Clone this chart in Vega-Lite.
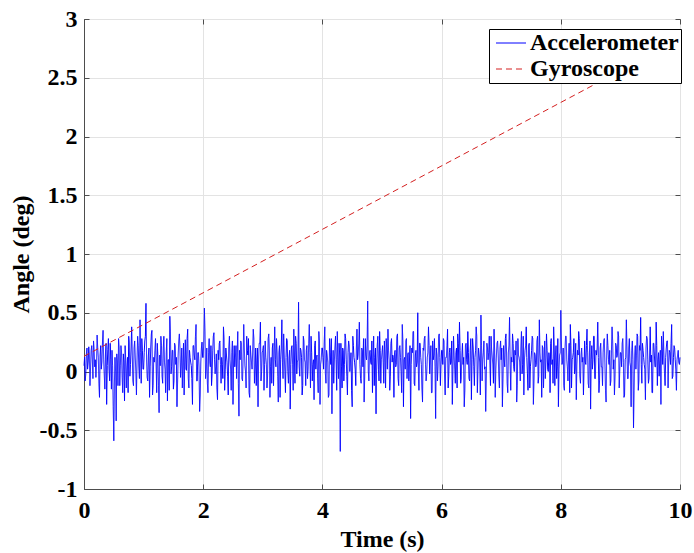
{
"$schema":"https://vega.github.io/schema/vega-lite/v6.json",
"width":596,"height":470,
"autosize":"none",
"padding":{"left":84,"top":19,"right":14,"bottom":64},
"background":"white",
"config":{"view":{"stroke":"#4d4d4d","strokeWidth":1},"font":"Liberation Serif"},
"datasets":{
"gyro":[{"t":0,"a":0.13},{"t":10,"a":2.83}],
"acc":[
{"t":0.00,"a":0.05},{"t":0.02,"a":-0.08},{"t":0.04,"a":0.15},{"t":0.06,"a":0.02},{"t":0.08,"a":0.21},{"t":0.10,"a":-0.12},{"t":0.12,"a":0.18},{"t":0.14,"a":0.10},{"t":0.16,"a":0.26},{"t":0.18,"a":0.04},
{"t":0.20,"a":-0.05},{"t":0.22,"a":0.31},{"t":0.24,"a":0.12},{"t":0.26,"a":-0.22},{"t":0.28,"a":0.22},{"t":0.30,"a":0.08},{"t":0.32,"a":0.35},{"t":0.34,"a":-0.03},{"t":0.36,"a":0.15},{"t":0.38,"a":-0.28},
{"t":0.40,"a":0.19},{"t":0.42,"a":0.02},{"t":0.44,"a":0.24},{"t":0.46,"a":-0.15},{"t":0.48,"a":0.05},{"t":0.50,"a":-0.59},{"t":0.52,"a":0.12},{"t":0.54,"a":-0.42},{"t":0.56,"a":0.08},{"t":0.58,"a":0.28},
{"t":0.60,"a":-0.12},{"t":0.62,"a":0.22},{"t":0.64,"a":-0.05},{"t":0.66,"a":0.15},{"t":0.68,"a":-0.25},{"t":0.70,"a":0.10},{"t":0.72,"a":0.03},{"t":0.74,"a":-0.18},{"t":0.76,"a":0.25},{"t":0.78,"a":0.06},
{"t":0.80,"a":0.38},{"t":0.82,"a":-0.08},{"t":0.84,"a":0.20},{"t":0.86,"a":0.12},{"t":0.88,"a":-0.20},{"t":0.90,"a":0.30},{"t":0.92,"a":0.04},{"t":0.94,"a":0.44},{"t":0.96,"a":-0.10},{"t":0.98,"a":0.18},
{"t":1.00,"a":0.02},{"t":1.02,"a":0.26},{"t":1.04,"a":0.58},{"t":1.06,"a":-0.05},{"t":1.08,"a":0.14},{"t":1.10,"a":-0.22},{"t":1.12,"a":0.20},{"t":1.14,"a":0.35},{"t":1.16,"a":-0.12},{"t":1.18,"a":0.08},
{"t":1.20,"a":0.28},{"t":1.22,"a":-0.18},{"t":1.24,"a":0.12},{"t":1.26,"a":-0.35},{"t":1.28,"a":0.05},{"t":1.30,"a":0.22},{"t":1.32,"a":-0.10},{"t":1.34,"a":0.30},{"t":1.36,"a":0.02},{"t":1.38,"a":0.16},
{"t":1.40,"a":-0.25},{"t":1.42,"a":0.10},{"t":1.44,"a":0.47},{"t":1.46,"a":-0.02},{"t":1.48,"a":0.18},{"t":1.50,"a":-0.15},{"t":1.52,"a":0.24},{"t":1.54,"a":0.06},{"t":1.56,"a":-0.30},{"t":1.58,"a":0.14},
{"t":1.60,"a":0.32},{"t":1.62,"a":-0.05},{"t":1.64,"a":0.20},{"t":1.66,"a":0.08},{"t":1.68,"a":-0.20},{"t":1.70,"a":0.27},{"t":1.72,"a":0.01},{"t":1.74,"a":0.36},{"t":1.76,"a":-0.14},{"t":1.78,"a":0.12},
{"t":1.80,"a":0.05},{"t":1.82,"a":-0.28},{"t":1.84,"a":0.22},{"t":1.86,"a":0.10},{"t":1.88,"a":0.40},{"t":1.90,"a":-0.08},{"t":1.92,"a":0.16},{"t":1.94,"a":-0.34},{"t":1.96,"a":0.08},{"t":1.98,"a":0.25},
{"t":2.00,"a":0.12},{"t":2.02,"a":0.54},{"t":2.04,"a":-0.06},{"t":2.06,"a":0.20},{"t":2.08,"a":-0.18},{"t":2.10,"a":0.28},{"t":2.12,"a":0.04},{"t":2.14,"a":-0.12},{"t":2.16,"a":0.18},{"t":2.18,"a":0.33},
{"t":2.20,"a":-0.02},{"t":2.22,"a":0.15},{"t":2.24,"a":-0.24},{"t":2.26,"a":0.10},{"t":2.28,"a":0.26},{"t":2.30,"a":-0.10},{"t":2.32,"a":0.06},{"t":2.34,"a":0.38},{"t":2.36,"a":-0.16},{"t":2.38,"a":0.20},
{"t":2.40,"a":0.08},{"t":2.42,"a":-0.20},{"t":2.44,"a":0.30},{"t":2.46,"a":0.02},{"t":2.48,"a":0.16},{"t":2.50,"a":-0.28},{"t":2.52,"a":0.22},{"t":2.54,"a":0.12},{"t":2.56,"a":-0.06},{"t":2.58,"a":0.34},
{"t":2.60,"a":-0.38},{"t":2.62,"a":0.10},{"t":2.64,"a":0.24},{"t":2.66,"a":-0.08},{"t":2.68,"a":0.40},{"t":2.70,"a":0.05},{"t":2.72,"a":-0.14},{"t":2.74,"a":0.18},{"t":2.76,"a":0.28},{"t":2.78,"a":-0.22},
{"t":2.80,"a":0.14},{"t":2.82,"a":0.02},{"t":2.84,"a":0.36},{"t":2.86,"a":-0.10},{"t":2.88,"a":0.20},{"t":2.90,"a":0.08},{"t":2.92,"a":-0.30},{"t":2.94,"a":0.24},{"t":2.96,"a":0.42},{"t":2.98,"a":0.00},
{"t":3.00,"a":0.18},{"t":3.02,"a":-0.16},{"t":3.04,"a":0.26},{"t":3.06,"a":0.06},{"t":3.08,"a":-0.04},{"t":3.10,"a":0.32},{"t":3.12,"a":-0.22},{"t":3.14,"a":0.12},{"t":3.16,"a":0.20},{"t":3.18,"a":-0.12},
{"t":3.20,"a":0.38},{"t":3.22,"a":0.04},{"t":3.24,"a":0.16},{"t":3.26,"a":-0.26},{"t":3.28,"a":0.22},{"t":3.30,"a":0.10},{"t":3.32,"a":0.44},{"t":3.34,"a":-0.06},{"t":3.36,"a":0.14},{"t":3.38,"a":-0.18},
{"t":3.40,"a":0.28},{"t":3.42,"a":0.00},{"t":3.44,"a":0.12},{"t":3.46,"a":-0.32},{"t":3.48,"a":0.20},{"t":3.50,"a":0.06},{"t":3.52,"a":0.36},{"t":3.54,"a":-0.10},{"t":3.56,"a":0.24},{"t":3.58,"a":0.08},
{"t":3.60,"a":0.59},{"t":3.62,"a":-0.04},{"t":3.64,"a":0.18},{"t":3.66,"a":-0.20},{"t":3.68,"a":0.30},{"t":3.70,"a":0.10},{"t":3.72,"a":-0.12},{"t":3.74,"a":0.22},{"t":3.76,"a":0.02},{"t":3.78,"a":0.40},
{"t":3.80,"a":-0.14},{"t":3.82,"a":0.16},{"t":3.84,"a":0.06},{"t":3.86,"a":-0.24},{"t":3.88,"a":0.26},{"t":3.90,"a":0.12},{"t":3.92,"a":-0.06},{"t":3.94,"a":0.34},{"t":3.96,"a":-0.28},{"t":3.98,"a":0.10},
{"t":4.00,"a":0.20},{"t":4.02,"a":0.02},{"t":4.04,"a":0.38},{"t":4.06,"a":-0.10},{"t":4.08,"a":0.14},{"t":4.10,"a":-0.22},{"t":4.12,"a":0.28},{"t":4.14,"a":0.06},{"t":4.16,"a":-0.36},{"t":4.18,"a":0.18},
{"t":4.20,"a":0.08},{"t":4.22,"a":0.30},{"t":4.24,"a":-0.16},{"t":4.26,"a":0.12},{"t":4.28,"a":0.24},{"t":4.30,"a":-0.68},{"t":4.32,"a":0.04},{"t":4.34,"a":0.20},{"t":4.36,"a":-0.08},{"t":4.38,"a":0.32},
{"t":4.40,"a":0.10},{"t":4.42,"a":-0.20},{"t":4.44,"a":0.26},{"t":4.46,"a":0.00},{"t":4.48,"a":0.16},{"t":4.50,"a":-0.30},{"t":4.52,"a":0.22},{"t":4.54,"a":0.08},{"t":4.56,"a":-0.12},{"t":4.58,"a":0.36},
{"t":4.60,"a":0.14},{"t":4.62,"a":0.42},{"t":4.64,"a":-0.06},{"t":4.66,"a":0.20},{"t":4.68,"a":0.04},{"t":4.70,"a":-0.26},{"t":4.72,"a":0.28},{"t":4.74,"a":0.10},{"t":4.76,"a":0.60},{"t":4.78,"a":-0.08},
{"t":4.80,"a":0.18},{"t":4.82,"a":0.06},{"t":4.84,"a":-0.18},{"t":4.86,"a":0.30},{"t":4.88,"a":0.12},{"t":4.90,"a":-0.36},{"t":4.92,"a":0.22},{"t":4.94,"a":0.02},{"t":4.96,"a":0.34},{"t":4.98,"a":-0.10},
{"t":5.00,"a":0.16},{"t":5.02,"a":0.08},{"t":5.04,"a":0.26},{"t":5.06,"a":-0.14},{"t":5.08,"a":0.20},{"t":5.10,"a":0.36},{"t":5.12,"a":0.10},{"t":5.14,"a":-0.04},{"t":5.16,"a":0.28},{"t":5.18,"a":0.14},
{"t":5.20,"a":-0.22},{"t":5.22,"a":0.18},{"t":5.24,"a":0.06},{"t":5.26,"a":0.32},{"t":5.28,"a":-0.12},{"t":5.30,"a":0.22},{"t":5.32,"a":0.00},{"t":5.34,"a":0.40},{"t":5.36,"a":-0.30},{"t":5.38,"a":0.12},
{"t":5.40,"a":0.26},{"t":5.42,"a":-0.06},{"t":5.44,"a":0.16},{"t":5.46,"a":0.08},{"t":5.48,"a":-0.40},{"t":5.50,"a":0.20},{"t":5.52,"a":0.34},{"t":5.54,"a":-0.10},{"t":5.56,"a":0.14},{"t":5.58,"a":0.04},
{"t":5.60,"a":0.50},{"t":5.62,"a":-0.16},{"t":5.64,"a":0.24},{"t":5.66,"a":0.06},{"t":5.68,"a":-0.26},{"t":5.70,"a":0.18},{"t":5.72,"a":0.30},{"t":5.74,"a":-0.08},{"t":5.76,"a":0.12},{"t":5.78,"a":0.38},
{"t":5.80,"a":-0.02},{"t":5.82,"a":0.22},{"t":5.84,"a":-0.18},{"t":5.86,"a":0.10},{"t":5.88,"a":0.28},{"t":5.90,"a":-0.40},{"t":5.92,"a":0.14},{"t":5.94,"a":0.04},{"t":5.96,"a":0.32},{"t":5.98,"a":-0.12},
{"t":6.00,"a":0.18},{"t":6.02,"a":0.06},{"t":6.04,"a":0.26},{"t":6.06,"a":-0.20},{"t":6.08,"a":0.12},{"t":6.10,"a":0.36},{"t":6.12,"a":-0.04},{"t":6.14,"a":0.20},{"t":6.16,"a":0.08},{"t":6.18,"a":-0.28},
{"t":6.20,"a":0.30},{"t":6.22,"a":0.02},{"t":6.24,"a":0.16},{"t":6.26,"a":-0.14},{"t":6.28,"a":0.24},{"t":6.30,"a":0.42},{"t":6.32,"a":-0.10},{"t":6.34,"a":0.14},{"t":6.36,"a":0.06},{"t":6.38,"a":-0.30},
{"t":6.40,"a":0.22},{"t":6.42,"a":0.10},{"t":6.44,"a":0.34},{"t":6.46,"a":-0.06},{"t":6.48,"a":0.18},{"t":6.50,"a":-0.24},{"t":6.52,"a":0.28},{"t":6.54,"a":0.04},{"t":6.56,"a":0.12},{"t":6.58,"a":0.38},
{"t":6.60,"a":-0.18},{"t":6.62,"a":0.20},{"t":6.64,"a":0.08},{"t":6.66,"a":0.48},{"t":6.68,"a":-0.08},{"t":6.70,"a":0.16},{"t":6.72,"a":0.02},{"t":6.74,"a":-0.34},{"t":6.76,"a":0.24},{"t":6.78,"a":0.10},
{"t":6.80,"a":0.30},{"t":6.82,"a":-0.12},{"t":6.84,"a":0.18},{"t":6.86,"a":0.06},{"t":6.88,"a":0.36},{"t":6.90,"a":-0.22},{"t":6.92,"a":0.14},{"t":6.94,"a":0.26},{"t":6.96,"a":-0.04},{"t":6.98,"a":0.20},
{"t":7.00,"a":0.10},{"t":7.02,"a":-0.30},{"t":7.04,"a":0.22},{"t":7.06,"a":0.04},{"t":7.08,"a":0.32},{"t":7.10,"a":-0.10},{"t":7.12,"a":0.16},{"t":7.14,"a":0.46},{"t":7.16,"a":-0.16},{"t":7.18,"a":0.08},
{"t":7.20,"a":0.24},{"t":7.22,"a":0.00},{"t":7.24,"a":0.14},{"t":7.26,"a":-0.26},{"t":7.28,"a":0.28},{"t":7.30,"a":0.12},{"t":7.32,"a":-0.08},{"t":7.34,"a":0.34},{"t":7.36,"a":0.06},{"t":7.38,"a":-0.20},
{"t":7.40,"a":0.18},{"t":7.42,"a":0.38},{"t":7.44,"a":-0.02},{"t":7.46,"a":0.22},{"t":7.48,"a":-0.14},{"t":7.50,"a":0.10},{"t":7.52,"a":0.30},{"t":7.54,"a":-0.28},{"t":7.56,"a":0.16},{"t":7.58,"a":0.04},
{"t":7.60,"a":0.26},{"t":7.62,"a":-0.10},{"t":7.64,"a":0.44},{"t":7.66,"a":0.08},{"t":7.68,"a":-0.22},{"t":7.70,"a":0.20},{"t":7.72,"a":0.12},{"t":7.74,"a":-0.06},{"t":7.76,"a":0.32},{"t":7.78,"a":0.02},
{"t":7.80,"a":0.16},{"t":7.82,"a":-0.18},{"t":7.84,"a":0.28},{"t":7.86,"a":0.10},{"t":7.88,"a":0.38},{"t":7.90,"a":-0.12},{"t":7.92,"a":0.22},{"t":7.94,"a":0.04},{"t":7.96,"a":-0.30},{"t":7.98,"a":0.14},
{"t":8.00,"a":0.52},{"t":8.02,"a":0.06},{"t":8.04,"a":0.20},{"t":8.06,"a":-0.16},{"t":8.08,"a":0.30},{"t":8.10,"a":0.10},{"t":8.12,"a":-0.08},{"t":8.14,"a":0.24},{"t":8.16,"a":0.40},{"t":8.18,"a":-0.14},
{"t":8.20,"a":0.12},{"t":8.22,"a":0.28},{"t":8.24,"a":0.02},{"t":8.26,"a":-0.24},{"t":8.28,"a":0.18},{"t":8.30,"a":0.34},{"t":8.32,"a":-0.04},{"t":8.34,"a":0.14},{"t":8.36,"a":0.08},{"t":8.38,"a":-0.20},
{"t":8.40,"a":0.26},{"t":8.42,"a":0.06},{"t":8.44,"a":0.36},{"t":8.46,"a":-0.10},{"t":8.48,"a":0.16},{"t":8.50,"a":-0.32},{"t":8.52,"a":0.22},{"t":8.54,"a":0.10},{"t":8.56,"a":0.30},{"t":8.58,"a":-0.06},
{"t":8.60,"a":0.14},{"t":8.62,"a":0.42},{"t":8.64,"a":-0.18},{"t":8.66,"a":0.20},{"t":8.68,"a":0.04},{"t":8.70,"a":-0.12},{"t":8.72,"a":0.26},{"t":8.74,"a":0.08},{"t":8.76,"a":-0.26},{"t":8.78,"a":0.32},
{"t":8.80,"a":0.10},{"t":8.82,"a":0.18},{"t":8.84,"a":-0.08},{"t":8.86,"a":0.38},{"t":8.88,"a":0.02},{"t":8.90,"a":-0.20},{"t":8.92,"a":0.24},{"t":8.94,"a":0.12},{"t":8.96,"a":0.34},{"t":8.98,"a":-0.14},
{"t":9.00,"a":0.16},{"t":9.02,"a":0.04},{"t":9.04,"a":0.28},{"t":9.06,"a":-0.22},{"t":9.08,"a":0.10},{"t":9.10,"a":0.44},{"t":9.12,"a":-0.06},{"t":9.14,"a":0.20},{"t":9.16,"a":0.08},{"t":9.18,"a":-0.30},
{"t":9.20,"a":0.26},{"t":9.22,"a":-0.48},{"t":9.24,"a":0.14},{"t":9.26,"a":0.02},{"t":9.28,"a":0.32},{"t":9.30,"a":-0.16},{"t":9.32,"a":0.22},{"t":9.34,"a":0.46},{"t":9.36,"a":-0.10},{"t":9.38,"a":0.18},
{"t":9.40,"a":0.06},{"t":9.42,"a":-0.24},{"t":9.44,"a":0.30},{"t":9.46,"a":0.10},{"t":9.48,"a":-0.06},{"t":9.50,"a":0.38},{"t":9.52,"a":0.14},{"t":9.54,"a":-0.18},{"t":9.56,"a":0.24},{"t":9.58,"a":0.04},
{"t":9.60,"a":0.42},{"t":9.62,"a":-0.12},{"t":9.64,"a":0.16},{"t":9.66,"a":0.08},{"t":9.68,"a":-0.28},{"t":9.70,"a":0.20},{"t":9.72,"a":0.34},{"t":9.74,"a":-0.02},{"t":9.76,"a":0.12},{"t":9.78,"a":0.26},
{"t":9.80,"a":-0.14},{"t":9.82,"a":0.18},{"t":9.84,"a":0.06},{"t":9.86,"a":0.40},{"t":9.88,"a":-0.04},{"t":9.90,"a":0.22},{"t":9.92,"a":0.10},{"t":9.94,"a":-0.16},{"t":9.96,"a":0.14},{"t":9.98,"a":0.08},
{"t":10.00,"a":0.12},
{"t":0.01,"a":0.12},{"t":0.03,"a":-0.02},{"t":0.05,"a":0.20},{"t":0.07,"a":0.08},{"t":0.09,"a":0.14},{"t":0.11,"a":0.03},{"t":0.13,"a":0.22},{"t":0.15,"a":-0.06},{"t":0.17,"a":0.18},{"t":0.19,"a":0.10},
{"t":0.21,"a":0.06},{"t":0.23,"a":0.20},{"t":0.25,"a":-0.10},{"t":0.27,"a":0.14},{"t":0.29,"a":0.02},{"t":0.31,"a":0.25},{"t":0.33,"a":0.10},{"t":0.35,"a":-0.15},{"t":0.37,"a":0.24},{"t":0.39,"a":0.05},
{"t":0.41,"a":0.28},{"t":0.43,"a":-0.08},{"t":0.45,"a":0.10},{"t":0.47,"a":0.18},{"t":0.49,"a":-0.30},{"t":0.51,"a":-0.10},{"t":0.53,"a":0.00},{"t":0.55,"a":0.15},{"t":0.57,"a":-0.12},{"t":0.59,"a":0.20},
{"t":0.61,"a":0.05},{"t":0.63,"a":0.16},{"t":0.65,"a":-0.18},{"t":0.67,"a":0.08},{"t":0.69,"a":0.22},{"t":0.71,"a":-0.14},{"t":0.73,"a":0.12},{"t":0.75,"a":0.30},{"t":0.77,"a":-0.04},{"t":0.79,"a":0.20},
{"t":0.81,"a":0.14},{"t":0.83,"a":-0.12},{"t":0.85,"a":0.26},{"t":0.87,"a":0.00},{"t":0.89,"a":0.10},{"t":0.91,"a":0.22},{"t":0.93,"a":-0.06},{"t":0.95,"a":0.16},{"t":0.97,"a":0.28},{"t":0.99,"a":0.02},
{"t":1.01,"a":0.16},{"t":1.03,"a":0.30},{"t":1.05,"a":0.10},{"t":1.07,"a":-0.08},{"t":1.09,"a":0.20},{"t":1.11,"a":0.04},{"t":1.13,"a":0.32},{"t":1.15,"a":-0.20},{"t":1.17,"a":0.12},{"t":1.19,"a":0.18},
{"t":1.21,"a":0.06},{"t":1.23,"a":0.24},{"t":1.25,"a":-0.12},{"t":1.27,"a":0.14},{"t":1.29,"a":0.30},{"t":1.31,"a":-0.04},{"t":1.33,"a":0.20},{"t":1.35,"a":0.08},{"t":1.37,"a":-0.18},{"t":1.39,"a":0.28},
{"t":1.41,"a":0.10},{"t":1.43,"a":-0.16},{"t":1.45,"a":0.34},{"t":1.47,"a":0.04},{"t":1.49,"a":0.18},{"t":1.51,"a":-0.08},{"t":1.53,"a":0.22},{"t":1.55,"a":0.12},{"t":1.57,"a":-0.10},{"t":1.59,"a":0.26},
{"t":1.61,"a":0.20},{"t":1.63,"a":0.06},{"t":1.65,"a":-0.14},{"t":1.67,"a":0.24},{"t":1.69,"a":0.10},{"t":1.71,"a":0.02},{"t":1.73,"a":0.28},{"t":1.75,"a":-0.06},{"t":1.77,"a":0.18},{"t":1.79,"a":0.08},
{"t":1.81,"a":-0.06},{"t":1.83,"a":0.22},{"t":1.85,"a":0.14},{"t":1.87,"a":0.30},{"t":1.89,"a":-0.08},{"t":1.91,"a":0.16},{"t":1.93,"a":0.04},{"t":1.95,"a":-0.20},{"t":1.97,"a":0.20},{"t":1.99,"a":0.12},
{"t":2.01,"a":0.26},{"t":2.03,"a":0.34},{"t":2.05,"a":0.02},{"t":2.07,"a":-0.10},{"t":2.09,"a":0.16},{"t":2.11,"a":0.08},{"t":2.13,"a":0.22},{"t":2.15,"a":-0.02},{"t":2.17,"a":0.30},{"t":2.19,"a":0.10},
{"t":2.21,"a":0.04},{"t":2.23,"a":-0.14},{"t":2.25,"a":0.18},{"t":2.27,"a":0.24},{"t":2.29,"a":0.06},{"t":2.31,"a":0.12},{"t":2.33,"a":-0.06},{"t":2.35,"a":0.28},{"t":2.37,"a":0.02},{"t":2.39,"a":0.14},
{"t":2.41,"a":-0.04},{"t":2.43,"a":0.20},{"t":2.45,"a":0.10},{"t":2.47,"a":-0.16},{"t":2.49,"a":0.26},{"t":2.51,"a":0.08},{"t":2.53,"a":0.04},{"t":2.55,"a":0.22},{"t":2.57,"a":0.16},{"t":2.59,"a":-0.10},
{"t":2.61,"a":0.18},{"t":2.63,"a":0.26},{"t":2.65,"a":-0.06},{"t":2.67,"a":0.12},{"t":2.69,"a":0.20},{"t":2.71,"a":0.00},{"t":2.73,"a":0.30},{"t":2.75,"a":0.14},{"t":2.77,"a":-0.18},{"t":2.79,"a":0.22},
{"t":2.81,"a":0.08},{"t":2.83,"a":0.16},{"t":2.85,"a":0.28},{"t":2.87,"a":0.02},{"t":2.89,"a":-0.12},{"t":2.91,"a":0.20},{"t":2.93,"a":0.10},{"t":2.95,"a":0.24},{"t":2.97,"a":-0.08},{"t":2.99,"a":0.16},
{"t":3.01,"a":0.22},{"t":3.03,"a":0.06},{"t":3.05,"a":0.12},{"t":3.07,"a":-0.14},{"t":3.09,"a":0.28},{"t":3.11,"a":0.18},{"t":3.13,"a":0.04},{"t":3.15,"a":-0.10},{"t":3.17,"a":0.24},{"t":3.19,"a":0.14},
{"t":3.21,"a":0.10},{"t":3.23,"a":0.28},{"t":3.25,"a":-0.04},{"t":3.27,"a":0.16},{"t":3.29,"a":-0.22},{"t":3.31,"a":0.20},{"t":3.33,"a":0.08},{"t":3.35,"a":0.32},{"t":3.37,"a":0.00},{"t":3.39,"a":0.12},
{"t":3.41,"a":0.26},{"t":3.43,"a":-0.10},{"t":3.45,"a":0.18},{"t":3.47,"a":0.06},{"t":3.49,"a":0.22},{"t":3.51,"a":-0.16},{"t":3.53,"a":0.14},{"t":3.55,"a":0.30},{"t":3.57,"a":-0.02},{"t":3.59,"a":0.10},
{"t":3.61,"a":0.04},{"t":3.63,"a":0.20},{"t":3.65,"a":0.12},{"t":3.67,"a":-0.12},{"t":3.69,"a":0.26},{"t":3.71,"a":0.08},{"t":3.73,"a":0.18},{"t":3.75,"a":-0.06},{"t":3.77,"a":0.24},{"t":3.79,"a":0.16},
{"t":3.81,"a":0.30},{"t":3.83,"a":-0.08},{"t":3.85,"a":0.10},{"t":3.87,"a":0.22},{"t":3.89,"a":0.02},{"t":3.91,"a":0.14},{"t":3.93,"a":-0.18},{"t":3.95,"a":0.26},{"t":3.97,"a":0.06},{"t":3.99,"a":0.20},
{"t":4.01,"a":0.12},{"t":4.03,"a":0.24},{"t":4.05,"a":-0.02},{"t":4.07,"a":0.18},{"t":4.09,"a":0.08},{"t":4.11,"a":-0.20},{"t":4.13,"a":0.16},{"t":4.15,"a":0.28},{"t":4.17,"a":0.04},{"t":4.19,"a":-0.10},
{"t":4.21,"a":0.20},{"t":4.23,"a":0.10},{"t":4.25,"a":0.34},{"t":4.27,"a":-0.06},{"t":4.29,"a":0.14},{"t":4.31,"a":0.24},{"t":4.33,"a":-0.14},{"t":4.35,"a":0.18},{"t":4.37,"a":0.06},{"t":4.39,"a":0.28},
{"t":4.41,"a":-0.04},{"t":4.43,"a":0.16},{"t":4.45,"a":0.22},{"t":4.47,"a":0.08},{"t":4.49,"a":-0.16},{"t":4.51,"a":0.30},{"t":4.53,"a":0.12},{"t":4.55,"a":0.02},{"t":4.57,"a":0.20},{"t":4.59,"a":0.10},
{"t":4.61,"a":0.24},{"t":4.63,"a":0.06},{"t":4.65,"a":-0.10},{"t":4.67,"a":0.18},{"t":4.69,"a":0.28},{"t":4.71,"a":-0.04},{"t":4.73,"a":0.14},{"t":4.75,"a":0.22},{"t":4.77,"a":0.00},{"t":4.79,"a":0.16},
{"t":4.81,"a":0.08},{"t":4.83,"a":0.26},{"t":4.85,"a":0.12},{"t":4.87,"a":-0.12},{"t":4.89,"a":0.20},{"t":4.91,"a":0.04},{"t":4.93,"a":0.30},{"t":4.95,"a":-0.08},{"t":4.97,"a":0.18},{"t":4.99,"a":0.10},
{"t":5.01,"a":0.22},{"t":5.03,"a":-0.10},{"t":5.05,"a":0.14},{"t":5.07,"a":0.28},{"t":5.09,"a":0.02},{"t":5.11,"a":0.18},{"t":5.13,"a":-0.16},{"t":5.15,"a":0.24},{"t":5.17,"a":0.08},{"t":5.19,"a":0.12},
{"t":5.21,"a":0.16},{"t":5.23,"a":0.04},{"t":5.25,"a":0.30},{"t":5.27,"a":-0.06},{"t":5.29,"a":0.20},{"t":5.31,"a":0.12},{"t":5.33,"a":-0.18},{"t":5.35,"a":0.26},{"t":5.37,"a":0.10},{"t":5.39,"a":0.02},
{"t":5.41,"a":0.28},{"t":5.43,"a":0.14},{"t":5.45,"a":-0.08},{"t":5.47,"a":0.22},{"t":5.49,"a":0.06},{"t":5.51,"a":0.16},{"t":5.53,"a":0.34},{"t":5.55,"a":-0.12},{"t":5.57,"a":0.18},{"t":5.59,"a":0.08},
{"t":5.61,"a":0.00},{"t":5.63,"a":0.24},{"t":5.65,"a":0.12},{"t":5.67,"a":-0.14},{"t":5.69,"a":0.20},{"t":5.71,"a":0.28},{"t":5.73,"a":0.06},{"t":5.75,"a":-0.02},{"t":5.77,"a":0.16},{"t":5.79,"a":0.22},
{"t":5.81,"a":0.10},{"t":5.83,"a":-0.18},{"t":5.85,"a":0.26},{"t":5.87,"a":0.14},{"t":5.89,"a":0.04},{"t":5.91,"a":0.20},{"t":5.93,"a":-0.08},{"t":5.95,"a":0.30},{"t":5.97,"a":0.12},{"t":5.99,"a":0.06},
{"t":6.01,"a":0.18},{"t":6.03,"a":0.28},{"t":6.05,"a":-0.04},{"t":6.07,"a":0.12},{"t":6.09,"a":0.22},{"t":6.11,"a":-0.14},{"t":6.13,"a":0.16},{"t":6.15,"a":0.06},{"t":6.17,"a":0.26},{"t":6.19,"a":0.02},
{"t":6.21,"a":0.14},{"t":6.23,"a":-0.10},{"t":6.25,"a":0.20},{"t":6.27,"a":0.32},{"t":6.29,"a":0.08},{"t":6.31,"a":0.18},{"t":6.33,"a":-0.06},{"t":6.35,"a":0.24},{"t":6.37,"a":0.12},{"t":6.39,"a":-0.16},
{"t":6.41,"a":0.24},{"t":6.43,"a":0.06},{"t":6.45,"a":0.16},{"t":6.47,"a":-0.08},{"t":6.49,"a":0.28},{"t":6.51,"a":0.10},{"t":6.53,"a":0.20},{"t":6.55,"a":-0.12},{"t":6.57,"a":0.18},{"t":6.59,"a":0.30},
{"t":6.61,"a":0.02},{"t":6.63,"a":0.14},{"t":6.65,"a":-0.20},{"t":6.67,"a":0.22},{"t":6.69,"a":0.10},{"t":6.71,"a":0.26},{"t":6.73,"a":0.04},{"t":6.75,"a":-0.04},{"t":6.77,"a":0.20},{"t":6.79,"a":0.16},
{"t":6.81,"a":0.08},{"t":6.83,"a":0.30},{"t":6.85,"a":0.12},{"t":6.87,"a":-0.10},{"t":6.89,"a":0.18},{"t":6.91,"a":0.02},{"t":6.93,"a":0.24},{"t":6.95,"a":0.14},{"t":6.97,"a":-0.14},{"t":6.99,"a":0.26},
{"t":7.01,"a":0.20},{"t":7.03,"a":-0.06},{"t":7.05,"a":0.10},{"t":7.07,"a":0.28},{"t":7.09,"a":0.16},{"t":7.11,"a":-0.18},{"t":7.13,"a":0.22},{"t":7.15,"a":0.06},{"t":7.17,"a":0.12},{"t":7.19,"a":0.32},
{"t":7.21,"a":0.04},{"t":7.23,"a":0.18},{"t":7.25,"a":0.26},{"t":7.27,"a":-0.12},{"t":7.29,"a":0.14},{"t":7.31,"a":0.08},{"t":7.33,"a":0.20},{"t":7.35,"a":-0.02},{"t":7.37,"a":0.30},{"t":7.39,"a":0.10},
{"t":7.41,"a":0.22},{"t":7.43,"a":0.12},{"t":7.45,"a":-0.16},{"t":7.47,"a":0.24},{"t":7.49,"a":0.04},{"t":7.51,"a":0.18},{"t":7.53,"a":0.28},{"t":7.55,"a":-0.08},{"t":7.57,"a":0.14},{"t":7.59,"a":0.06},
{"t":7.61,"a":0.30},{"t":7.63,"a":-0.04},{"t":7.65,"a":0.16},{"t":7.67,"a":0.10},{"t":7.69,"a":0.22},{"t":7.71,"a":-0.14},{"t":7.73,"a":0.26},{"t":7.75,"a":0.08},{"t":7.77,"a":0.18},{"t":7.79,"a":0.00},
{"t":7.81,"a":0.12},{"t":7.83,"a":0.24},{"t":7.85,"a":0.06},{"t":7.87,"a":-0.10},{"t":7.89,"a":0.20},{"t":7.91,"a":0.14},{"t":7.93,"a":-0.06},{"t":7.95,"a":0.28},{"t":7.97,"a":0.02},{"t":7.99,"a":0.16},
{"t":8.01,"a":0.26},{"t":8.03,"a":0.08},{"t":8.05,"a":-0.12},{"t":8.07,"a":0.18},{"t":8.09,"a":0.30},{"t":8.11,"a":0.04},{"t":8.13,"a":0.12},{"t":8.15,"a":-0.18},{"t":8.17,"a":0.22},{"t":8.19,"a":0.10},
{"t":8.21,"a":0.16},{"t":8.23,"a":-0.02},{"t":8.25,"a":0.24},{"t":8.27,"a":0.06},{"t":8.29,"a":0.14},{"t":8.31,"a":0.28},{"t":8.33,"a":-0.10},{"t":8.35,"a":0.20},{"t":8.37,"a":0.12},{"t":8.39,"a":0.02},
{"t":8.41,"a":0.08},{"t":8.43,"a":0.22},{"t":8.45,"a":0.16},{"t":8.47,"a":-0.14},{"t":8.49,"a":0.26},{"t":8.51,"a":0.10},{"t":8.53,"a":0.02},{"t":8.55,"a":0.30},{"t":8.57,"a":-0.06},{"t":8.59,"a":0.18},
{"t":8.61,"a":0.20},{"t":8.63,"a":0.12},{"t":8.65,"a":-0.08},{"t":8.67,"a":0.24},{"t":8.69,"a":0.04},{"t":8.71,"a":0.16},{"t":8.73,"a":0.28},{"t":8.75,"a":-0.16},{"t":8.77,"a":0.14},{"t":8.79,"a":0.22},
{"t":8.81,"a":0.06},{"t":8.83,"a":-0.12},{"t":8.85,"a":0.18},{"t":8.87,"a":0.26},{"t":8.89,"a":0.10},{"t":8.91,"a":-0.04},{"t":8.93,"a":0.22},{"t":8.95,"a":0.14},{"t":8.97,"a":0.30},{"t":8.99,"a":0.02},
{"t":9.01,"a":0.16},{"t":9.03,"a":0.24},{"t":9.05,"a":0.08},{"t":9.07,"a":-0.20},{"t":9.09,"a":0.12},{"t":9.11,"a":0.20},{"t":9.13,"a":-0.06},{"t":9.15,"a":0.28},{"t":9.17,"a":0.04},{"t":9.19,"a":0.18},
{"t":9.21,"a":0.10},{"t":9.23,"a":-0.16},{"t":9.25,"a":0.22},{"t":9.27,"a":0.14},{"t":9.29,"a":0.30},{"t":9.31,"a":-0.08},{"t":9.33,"a":0.18},{"t":9.35,"a":0.06},{"t":9.37,"a":0.24},{"t":9.39,"a":0.12},
{"t":9.41,"a":0.02},{"t":9.43,"a":0.20},{"t":9.45,"a":0.28},{"t":9.47,"a":-0.10},{"t":9.49,"a":0.16},{"t":9.51,"a":0.08},{"t":9.53,"a":-0.18},{"t":9.55,"a":0.24},{"t":9.57,"a":0.14},{"t":9.59,"a":0.04},
{"t":9.61,"a":0.22},{"t":9.63,"a":0.10},{"t":9.65,"a":-0.04},{"t":9.67,"a":0.18},{"t":9.69,"a":0.30},{"t":9.71,"a":0.06},{"t":9.73,"a":0.14},{"t":9.75,"a":-0.12},{"t":9.77,"a":0.20},{"t":9.79,"a":0.26},
{"t":9.81,"a":0.08},{"t":9.83,"a":0.16},{"t":9.85,"a":0.24},{"t":9.87,"a":-0.06},{"t":9.89,"a":0.12},{"t":9.91,"a":0.20},{"t":9.93,"a":0.02},{"t":9.95,"a":0.10},{"t":9.97,"a":0.18},{"t":9.99,"a":0.06}
]},
"layer":[
{"data":{"name":"acc"},
 "mark":{"type":"line","strokeWidth":1},
 "encoding":{
  "x":{"field":"t","type":"quantitative","scale":{"domain":[0,10],"nice":false},
   "axis":{"orient":"bottom","values":[0,2,4,6,8,10],"grid":true,"gridColor":"#e3e3e3","gridWidth":1,"tickSize":-5,"tickColor":"#4d4d4d","domainColor":"#4d4d4d","labelFont":"Liberation Serif","labelFontWeight":"bold","labelFontSize":24,"labelColor":"#000","labelPadding":14,"labelFlush":false,"labelOverlap":false,"title":"Time (s)","titleFont":"Liberation Serif","titleFontSize":24,"titleFontWeight":"bold","titleColor":"#000","titleY":57,"titleBaseline":"alphabetic"}},
  "y":{"field":"a","type":"quantitative","scale":{"domain":[-1,3],"nice":false},
   "axis":{"orient":"left","values":[-1,-0.5,0,0.5,1,1.5,2,2.5,3],"labelExpr":"toString(datum.value)","grid":true,"gridColor":"#e3e3e3","gridWidth":1,"tickSize":-5,"tickColor":"#4d4d4d","domainColor":"#4d4d4d","labelFont":"Liberation Serif","labelFontWeight":"bold","labelFontSize":24,"labelColor":"#000","labelPadding":12,"labelFlush":false,"labelOverlap":false,"title":"Angle (deg)","titleFont":"Liberation Serif","titleFontSize":24,"titleFontWeight":"bold","titleColor":"#000","titleX":-56,"titleBaseline":"alphabetic"}},
  "color":{"datum":"Accelerometer","type":"nominal","scale":{"domain":["Accelerometer","Gyroscope"],"range":["#0000ff","#d42020"]},
   "legend":{"orient":"none","legendX":405,"legendY":10,"title":null,"symbolType":"M-2.5,0H2.5","symbolSize":144,"symbolStrokeWidth":1,"symbolOffset":8,"labelOffset":7,"labelFont":"Liberation Serif","labelFontSize":24,"labelFontWeight":"bold","labelColor":"#000","strokeColor":"#000","fillColor":"#fff","padding":2,"rowPadding":2}},
  "strokeDash":{"datum":"Accelerometer","type":"nominal","scale":{"domain":["Accelerometer","Gyroscope"],"range":[[1,0],[6,4]]},
   "legend":{"orient":"none","legendX":405,"legendY":10,"title":null,"symbolType":"M-2.5,0H2.5","symbolSize":144,"symbolStrokeWidth":1,"symbolOffset":8,"labelOffset":7,"labelFont":"Liberation Serif","labelFontSize":24,"labelFontWeight":"bold","labelColor":"#000","strokeColor":"#000","fillColor":"#fff","padding":2,"rowPadding":2}}
 }},
{"data":{"name":"gyro"},
 "mark":{"type":"line","strokeWidth":1},
 "encoding":{
  "x":{"field":"t","type":"quantitative","axis":{"orient":"top","values":[0,2,4,6,8,10],"labels":false,"title":null,"grid":false,"domain":false,"tickSize":-5,"tickColor":"#4d4d4d"}},
  "y":{"field":"a","type":"quantitative","axis":{"orient":"right","values":[-1,-0.5,0,0.5,1,1.5,2,2.5,3],"labels":false,"title":null,"grid":false,"domain":false,"tickSize":-5,"tickColor":"#4d4d4d"}},
  "color":{"datum":"Gyroscope","type":"nominal"},
  "strokeDash":{"datum":"Gyroscope","type":"nominal"}
 }}
],
"resolve":{"axis":{"x":"independent","y":"independent"}}
}
